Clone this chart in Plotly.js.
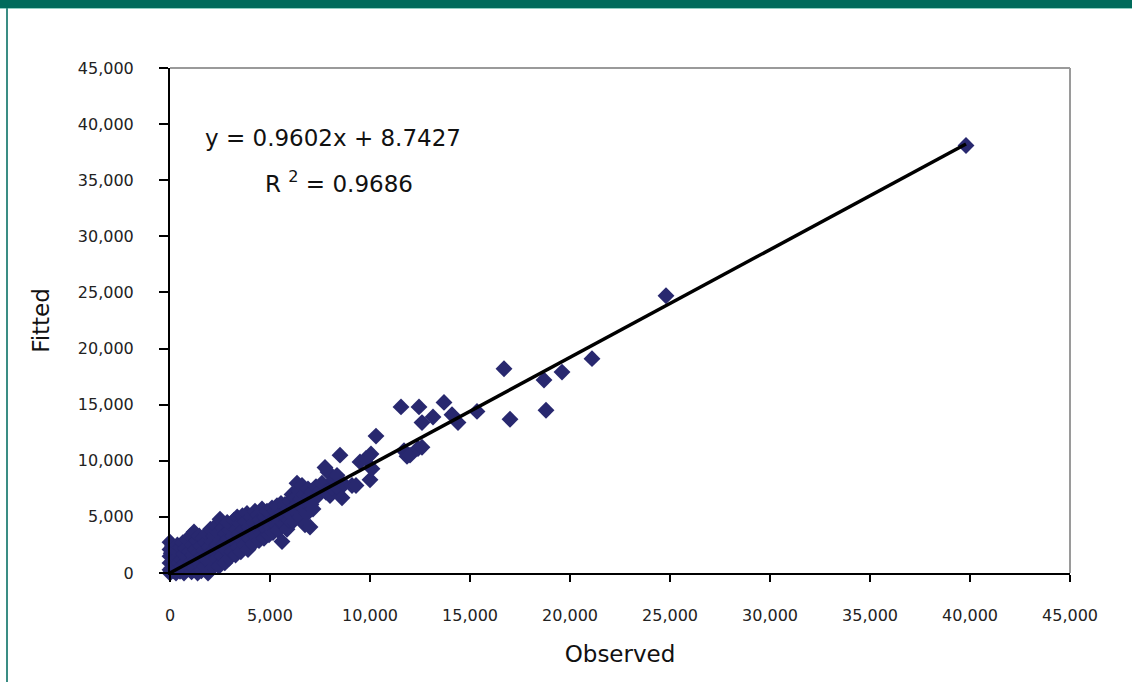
<!DOCTYPE html>
<html>
<head>
<meta charset="utf-8">
<script src="https://cdn.plot.ly/plotly-3.0.1.min.js"></script>
<style>
  html, body { margin: 0; padding: 0; background: #ffffff; }
  #wrap { position: relative; width: 1132px; height: 682px; overflow: hidden; }
  #topbar { position: absolute; left: 0; top: 0; width: 1132px; height: 8px; background: #006b5b; border-bottom: 1px solid #8fcfc2; z-index: 2; }
  #leftbar { position: absolute; left: 6px; top: 8px; width: 2px; height: 674px; background: #3a8d84; z-index: 2; }
  #chart { position: absolute; left: 0; top: 0; width: 1132px; height: 682px; }
</style>
</head>
<body>
<div id="wrap">
  <div id="chart"></div>
  <div id="topbar"></div>
  <div id="leftbar"></div>
</div>
<script>
// Observed values
const observed = [
  0,0,0,0,0,0,60,90,120,150,180,210,240,280,300,330,370,400,430,460,500,520,560,600,640,680,700,740,780,820,860,900,950,980,
  1020,1050,1080,1120,1150,1200,1230,1270,1300,1340,1380,1420,1460,1500,1530,1570,1600,1650,1700,1740,1780,1820,1860,1900,1950,1980,
  2020,2060,2100,2150,2200,2240,2280,2320,2360,2400,2450,2500,2520,2560,2600,2650,2700,2740,2780,2820,2860,2900,2950,2990,
  3020,3060,3100,3150,3200,3240,3280,3320,3360,3400,3450,3500,3540,3580,3620,3670,3720,3760,3800,3850,3900,3950,
  4000,4050,4100,4150,4200,4250,4300,4350,4400,4450,4500,4550,4600,4650,4700,4750,4800,4850,4900,4950,
  5000,5050,5100,5150,5200,5250,5300,5350,5400,5450,5500,5550,5600,5650,5700,5750,5800,5850,5900,5950,
  6000,6050,6100,6150,6200,6250,6300,6350,6400,6450,6500,6550,6600,6650,6700,6750,6800,6850,6900,6950,7000,7050,7100,7150,7200,7300,7400,7500,7600,7750,7800,
  7900,8000,8100,8200,8350,8500,8450,8600,8700,9100,9300,9500,9800,10000,10050,10100,10300,
  11550,11700,11850,12000,12450,12400,12600,12600,13150,13700,14100,14400,15350,16700,17000,18700,18800,19600,21100,24800,39800
];
// Fitted values
const fitted = [
  2750,2100,1500,900,300,0,1750,450,2400,1100,200,1600,700,2000,0,1300,2500,400,900,1800,150,2300,1200,600,2700,1700,0,900,2200,300,1400,2900,600,1900,
  3300,1000,100,2500,1600,3650,400,2100,1200,2900,0,1800,3300,800,2400,200,1500,3100,2000,600,2700,1200,3500,0,2300,1700,
  3900,1000,2800,500,3300,1900,4200,1300,2500,3600,600,4800,2100,3000,1500,4000,2600,900,3500,2000,4500,3000,1300,3800,
  2500,4300,1900,3300,4700,2800,1600,3900,5000,2300,3500,4400,1900,3000,5100,3900,2500,4600,3400,5300,2100,4100,
  3000,5000,3700,2600,4500,5500,3300,4000,5200,2900,4700,3600,5700,4300,3100,5000,3900,5500,4500,3400,
  5300,4100,5800,3600,4800,5500,4300,6000,3800,5100,4600,6200,2800,5300,4400,6100,5000,3900,5700,4700,
  6400,5200,7000,4600,5900,6700,5400,8000,6200,7300,5000,6600,7800,5800,7000,4300,6200,5300,7500,6800,4100,6100,7200,5700,6600,7700,6900,7300,8000,9400,7200,
  9000,6900,7600,8300,8700,10500,7500,6700,7900,7800,7800,9900,10200,8300,10600,9300,12200,
  14800,10900,10400,10500,14800,11100,13400,11200,13900,15200,14100,13400,14400,18200,13700,17200,14500,17900,19100,24700,38100
];
// Linear trend coefficients (as printed on the chart)
const trendSlope = 0.9602;
const trendIntercept = 8.7427;
const trendRange = [0, 39800];
const equationText = 'y = 0.9602x + 8.7427';
const r2Text = 'R <sup>2</sup> = 0.9686';
const tickValues = [0,5000,10000,15000,20000,25000,30000,35000,40000,45000];
const tickLabels = ['0','5,000','10,000','15,000','20,000','25,000','30,000','35,000','40,000','45,000'];

const trendY = trendRange.map(x => trendSlope * x + trendIntercept);

const FONT = 'DejaVu Sans, Verdana, sans-serif';

const traces = [
  {
    type: 'scatter', mode: 'markers', x: observed, y: fitted,
    marker: { symbol: 'diamond', size: 13, color: '#28286f', line: { width: 0 } },
    hoverinfo: 'x+y', cliponaxis: false
  },
  {
    type: 'scatter', mode: 'lines', x: trendRange, y: trendY,
    line: { color: '#000000', width: 3.5 }, hoverinfo: 'skip'
  }
];

const axisCommon = {
  range: [0, 45000], tickvals: tickValues, ticktext: tickLabels,
  showgrid: false, zeroline: false, showline: true, linecolor: '#000000', linewidth: 2,
  ticks: 'outside', tickcolor: '#000000', tickwidth: 2,
  tickfont: { family: FONT, size: 16, color: '#222222' },
  fixedrange: true
};

const layout = {
  width: 1132, height: 682,
  margin: { l: 170, r: 62, t: 68, b: 109, pad: 0 },
  paper_bgcolor: '#ffffff', plot_bgcolor: '#ffffff',
  showlegend: false,
  font: { family: FONT, color: '#222222' },
  xaxis: Object.assign({}, axisCommon, {
    ticklen: 7, ticklabelstandoff: 20,
    title: { text: 'Observed', font: { family: FONT, size: 23, color: '#111111' }, standoff: 22 }
  }),
  yaxis: Object.assign({}, axisCommon, {
    ticklen: 9, ticklabelstandoff: 22,
    title: { text: 'Fitted', font: { family: FONT, size: 23, color: '#111111' }, standoff: 22 }
  }),
  shapes: [
    { type: 'line', xref: 'paper', yref: 'paper', x0: 0, x1: 1, y0: 1, y1: 1, line: { color: '#9a9a9a', width: 2 } },
    { type: 'line', xref: 'paper', yref: 'paper', x0: 1, x1: 1, y0: 0, y1: 1, line: { color: '#9a9a9a', width: 2 } }
  ],
  annotations: [
    { xref: 'paper', yref: 'paper', x: 0.181, y: 0.862, text: equationText, showarrow: false,
      font: { family: FONT, size: 23, color: '#111111' }, xanchor: 'center', yanchor: 'middle' },
    { xref: 'paper', yref: 'paper', x: 0.188, y: 0.775, text: r2Text, showarrow: false,
      font: { family: FONT, size: 23, color: '#111111' }, xanchor: 'center', yanchor: 'middle' }
  ]
};

Plotly.newPlot('chart', traces, layout, { displayModeBar: false, staticPlot: true });
</script>
</body>
</html>
